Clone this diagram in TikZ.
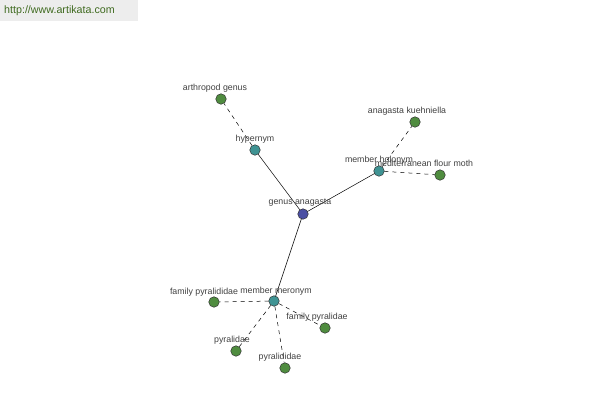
\documentclass[tikz,border=0pt]{standalone}
\usepackage{fontspec}
\setmainfont{Liberation Sans}
\usetikzlibrary{positioning}
\definecolor{rootcol}{HTML}{4B4FA3}
\definecolor{relcol}{HTML}{3F9393}
\definecolor{leafcol}{HTML}{4F8C3F}
\definecolor{labelcol}{HTML}{404040}
\definecolor{headcol}{HTML}{3F6A1F}

\tikzset{
  dot/.style={circle, draw=black!80, line width=0.5pt, minimum size=10.5pt, inner sep=0pt},
  rootdot/.style={dot, fill=rootcol},
  reldot/.style={dot, fill=relcol},
  leafdot/.style={dot, fill=leafcol},
  lbl/.style={font=\fontsize{8.8}{9}\selectfont, text=labelcol, inner sep=0pt},
  solidlink/.style={draw=black, line width=0.5pt},
  dashlink/.style={draw=black, line width=0.5pt, dash pattern=on 4pt off 4pt}
}

\begin{document}
\begin{tikzpicture}[x=1pt, y=-1pt]
  \useasboundingbox (0,0) rectangle (600,400);
  % site banner
  \fill[black!7] (0,0) rectangle (138,21);
  \node[font=\fontsize{10.7}{11}\selectfont, text=headcol, anchor=west, inner sep=0pt] (site) at (4,11) {http://www.artikata.com};

  % links
  \coordinate (genusc) at (303,214);
  \coordinate (hyperc) at (255,150);
  \coordinate (holoc) at (379,171);
  \coordinate (meroc) at (274,301);
  \draw[solidlink] (genusc) -- (hyperc);
  \draw[solidlink] (genusc) -- (holoc);
  \draw[solidlink] (genusc) -- (meroc);

  % nodes
  \node[rootdot] (genus) at (genusc) {};
  \node[reldot] (hyper) at (hyperc) {};
  \node[leafdot] (arthro) at (221,99) {};
  \node[reldot] (holo) at (holoc) {};
  \node[leafdot] (kuehn) at (415,122) {};
  \node[leafdot] (moth) at (440,175) {};
  \node[reldot] (mero) at (meroc) {};
  \node[leafdot] (fampyd) at (214,302) {};
  \node[leafdot] (fampy) at (325,328) {};
  \node[leafdot] (pyr) at (236,351) {};
  \node[leafdot] (pyrd) at (285,368) {};

  \draw[dashlink] (hyper) -- (arthro);
  \draw[dashlink] (holo) -- (kuehn);
  \draw[dashlink] (holo) -- (moth);
  \draw[dashlink] (mero) -- (fampyd);
  \draw[dashlink] (mero) -- (fampy);
  \draw[dashlink] (mero) -- (pyr);
  \draw[dashlink] (mero) -- (pyrd);

  % labels
  \node[lbl] (genuslbl) at (300,203) {genus anagasta};
  \node[lbl] (hyperlbl) at (255,139) {hypernym};
  \node[lbl] (arthrolbl) at (215,88) {arthropod genus};
  \node[lbl] (hololbl) at (379,160) {member holonym};
  \node[lbl] (kuehnlbl) at (407,111) {anagasta kuehniella};
  \node[lbl] (mothlbl) at (424,163) {mediterranean flour moth};
  \node[lbl] (merolbl) at (276,291) {member meronym};
  \node[lbl] (fampydlbl) at (204,292) {family pyralididae};
  \node[lbl] (fampylbl) at (317,317) {family pyralidae};
  \node[lbl] (pyrlbl) at (232,340) {pyralidae};
  \node[lbl] (pyrdlbl) at (280,357) {pyralididae};
\end{tikzpicture}
\end{document}
